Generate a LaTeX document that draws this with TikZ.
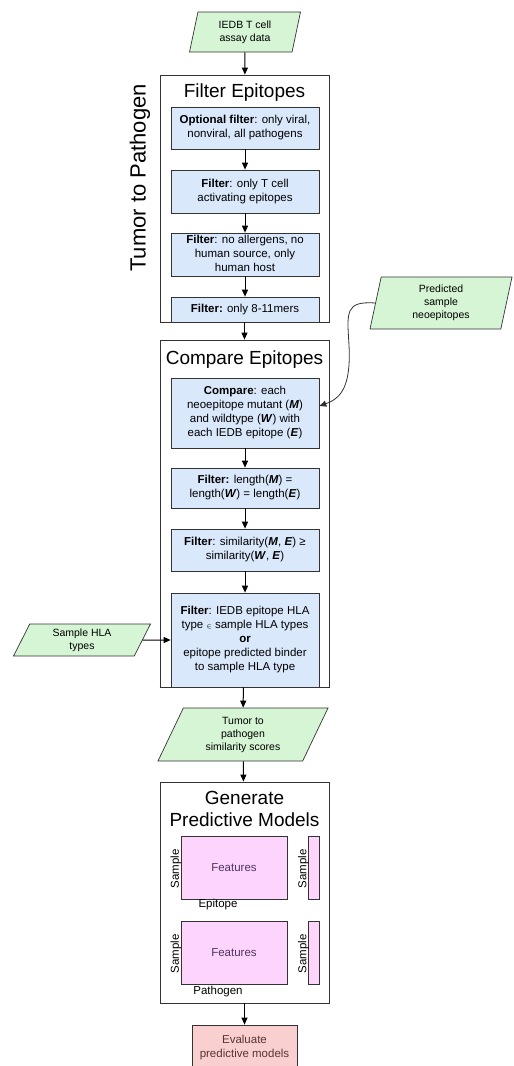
\documentclass[tikz,border=0pt]{standalone}
\usepackage{fontspec}
\setsansfont{Liberation Sans}
\usepackage{tikz}
\usetikzlibrary{arrows.meta,positioning,shapes.geometric}
\definecolor{iogreen}{HTML}{D5F5D5}
\definecolor{stepblue}{HTML}{DAE8FC}
\definecolor{featpink}{HTML}{FCD4FC}
\definecolor{featpurple}{HTML}{4E3560}
\definecolor{evalred}{HTML}{F9CFCF}
\definecolor{evaltext}{HTML}{5A3535}
\definecolor{edgegray}{HTML}{333333}

\begin{document}
\begin{tikzpicture}[
    x=1pt, y=-1pt,
    >={Triangle[length=7pt,width=6pt]},
    every node/.style={font=\sffamily\fontsize{11.5}{14}\selectfont},
    group/.style={
        rectangle,
        draw=edgegray,
        line width=0.8pt,
        fill=white,
        minimum width=169pt,
        inner sep=0pt
    },
    grouptitle/.style={font=\sffamily\fontsize{19}{22}\selectfont},
    stepbox/.style={
        rectangle,
        draw=edgegray,
        line width=0.7pt,
        fill=stepblue,
        minimum width=148pt,
        inner sep=0pt
    },
    dataio/.style={
        trapezium,
        trapezium stretches body,
        draw=edgegray,
        line width=0.7pt,
        fill=iogreen,
        inner sep=0pt,
        font=\sffamily\fontsize{10.5}{13}\selectfont
    },
    matrixbox/.style={rectangle, draw=edgegray, line width=0.7pt, fill=featpink, inner sep=0pt},
    arrow/.style={->, line width=1pt}
]
    \useasboundingbox (0,0) rectangle (514,1066);

    % === INPUT: IEDB ===
    \node[dataio, trapezium left angle=72, trapezium right angle=108, minimum width=111pt, minimum height=40pt] (iedb) at (245,32) {
        \begin{tabular}{c}
            IEDB T cell\\
            assay data
        \end{tabular}
    };

    % === FILTER EPITOPES ===
    \node[group, minimum height=247pt] (filter) at (244.5,198.5) {};
    \node[grouptitle] (filtertitle) at (244.5,93) {Filter Epitopes};
    \node[rotate=90, font=\sffamily\fontsize{22}{26}\selectfont] (sidelabel) at (140,178) {Tumor to Pathogen};

    \node[stepbox, minimum height=42pt] (fone) at (245,128) {
        \begin{tabular}{c}
            \textbf{Optional filter}: only viral,\\
            nonviral, all pathogens
        \end{tabular}
    };
    \node[stepbox, minimum height=43pt] (ftwo) at (245,191.5) {
        \begin{tabular}{c}
            \textbf{Filter}: only T cell\\
            activating epitopes
        \end{tabular}
    };
    \node[stepbox, minimum height=43pt] (fthree) at (245,254.5) {
        \begin{tabular}{c}
            \textbf{Filter}: no allergens, no\\
            human source, only\\
            human host
        \end{tabular}
    };
    \node[stepbox, minimum height=25pt] (ffour) at (245,309.5) {\textbf{Filter:} only 8-11mers};

    \draw[arrow] (iedb) -- (filter);
    \draw[arrow] (fone) -- (ftwo);
    \draw[arrow] (ftwo) -- (fthree);
    \draw[arrow] (fthree) -- (ffour);
    \draw[edgegray, line width=0.8pt] (filter.south west) -- (filter.south east);

    % === INPUT: NEOEPITOPES ===
    \node[dataio, trapezium left angle=74, trapezium right angle=106, minimum width=142pt, minimum height=52pt] (predicted) at (441,303) {
        \begin{tabular}{c}
            Predicted\\
            sample\\
            neoepitopes
        \end{tabular}
    };

    % === COMPARE EPITOPES ===
    \node[group, minimum height=347pt] (compare) at (244.5,513.5) {};
    \node[grouptitle] (comparetitle) at (244.5,360) {Compare Epitopes};

    \node[stepbox, minimum height=70pt] (cone) at (245,413) {
        \begin{tabular}{c}
            \textbf{Compare}: each\\
            neoepitope mutant (\textbf{\textit{M}})\\
            and wildtype (\textbf{\textit{W}}) with\\
            each IEDB epitope (\textbf{\textit{E}})
        \end{tabular}
    };
    \node[stepbox, minimum height=40pt] (ctwo) at (245,488) {
        \begin{tabular}{c}
            \textbf{Filter:} length(\textbf{\textit{M}}) =\\
            length(\textbf{\textit{W}}) = length(\textbf{\textit{E}})
        \end{tabular}
    };
    \node[stepbox, minimum height=42pt] (cthree) at (245,550) {
        \begin{tabular}{c}
            \textbf{Filter}: similarity(\textbf{\textit{M}}, \textbf{\textit{E}}) ≥\\
            similarity(\textbf{\textit{W}}, \textbf{\textit{E}})
        \end{tabular}
    };
    \node[stepbox, minimum height=94pt] (cfour) at (245,640) {
        \begin{tabular}{c}
            \textbf{Filter}: IEDB epitope HLA\\
            type {\scriptsize$\in$} sample HLA types\\
            \textbf{or}\\
            epitope predicted binder\\
            to sample HLA type
        \end{tabular}
    };

    \draw[arrow] (filter) -- (compare);
    \draw[arrow] (cone) -- (ctwo);
    \draw[arrow] (ctwo) -- (cthree);
    \draw[arrow] (cthree) -- (cfour);
    \draw[edgegray, line width=0.8pt] (compare.south west) -- (compare.south east);
    \draw[->, line width=0.8pt, edgegray] (predicted.west) .. controls (345,301) and (347,312) .. (349,345)
        .. controls (351,385) and (342,398) .. ([yshift=7pt]cone.east);

    % === INPUT: HLA ===
    \node[dataio, trapezium left angle=58, trapezium right angle=122, minimum width=137pt, minimum height=32pt] (hla) at (82,640) {
        \begin{tabular}{c}
            Sample HLA\\
            types
        \end{tabular}
    };
    \draw[arrow] (hla.east) -- (cfour.west);

    % === SCORES ===
    \node[dataio, trapezium left angle=57, trapezium right angle=123, minimum width=170pt, minimum height=53pt] (scores) at (243,734.5) {
        \begin{tabular}{c}
            Tumor to\\
            pathogen\\
            similarity scores
        \end{tabular}
    };
    \draw[arrow] (compare) -- (scores);

    % === GENERATE PREDICTIVE MODELS ===
    \node[group, minimum height=221pt] (generate) at (244.5,892.5) {};
    \node[grouptitle] (generatetitle) at (244.5,811) {
        \begin{tabular}{c}
            Generate\\
            Predictive Models
        \end{tabular}
    };
    \draw[arrow] (scores) -- (generate);

    % Epitope features
    \node[matrixbox, minimum width=106pt, minimum height=63pt, text=featpurple] (featepi) at (234,867.5) {Features};
    \node[matrixbox, minimum width=11pt, minimum height=63pt] (colepi) at (313.5,867.5) {};
    \node[rotate=90] (sampleepil) at (176,869) {Sample};
    \node[rotate=90] (sampleepir) at (303.5,869) {Sample};
    \node (epilabel) at (218,905) {Epitope};

    % Pathogen features
    \node[matrixbox, minimum width=106pt, minimum height=63pt, text=featpurple] (featpath) at (234,952.5) {Features};
    \node[matrixbox, minimum width=11pt, minimum height=63pt] (colpath) at (313.5,952.5) {};
    \node[rotate=90] (samplepathl) at (176,954) {Sample};
    \node[rotate=90] (samplepathr) at (303.5,954) {Sample};
    \node (pathlabel) at (218,992) {Pathogen};

    % === EVALUATE ===
    \node[rectangle, draw=edgegray, line width=0.7pt, fill=evalred, text=evaltext, minimum width=105pt, minimum height=46pt, inner sep=0pt] (evaluate) at (244.5,1048) {
        \begin{tabular}{c}
            Evaluate\\
            predictive models
        \end{tabular}
    };
    \draw[arrow] (generate) -- (evaluate);
\end{tikzpicture}
\end{document}
